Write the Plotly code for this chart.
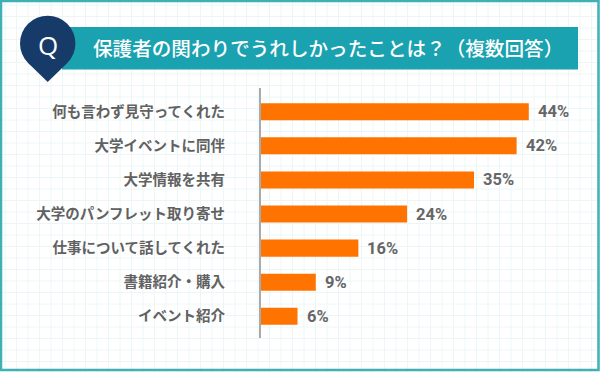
import plotly.graph_objects as go

categories = ["何も言わず見守ってくれた", "大学イベントに同伴", "大学情報を共有",
              "大学のパンフレット取り寄せ", "仕事について話してくれた", "書籍紹介・購入", "イベント紹介"]
values = [44, 42, 35, 24, 16, 9, 6]
title_text = "保護者の関わりでうれしかったことは？（複数回答）"

W, H = 600, 372
def px(x): return x / W
def py(y): return 1 - y / H

TEAL = "#1aa2b0"
NAVY = "#163b69"
ORANGE = "#ff7300"
GRAY = "#616161"

fig = go.Figure()
fig.add_trace(go.Bar(
    x=values, y=categories, orientation="h",
    marker=dict(color=ORANGE, line=dict(width=0)),
    width=0.5, hoverinfo="skip",
))

shapes = []
# grid background
step = 11.5
x = 5.0
while x < W:
    shapes.append(dict(type="line", xref="paper", yref="paper", x0=px(x), x1=px(x), y0=0, y1=1,
                       line=dict(color="#ecf6f7", width=1), layer="below"))
    x += step
y = 5.0
while y < H:
    shapes.append(dict(type="line", xref="paper", yref="paper", x0=0, x1=1, y0=py(y), y1=py(y),
                       line=dict(color="#ecf6f7", width=1), layer="below"))
    y += step
# outer border
shapes.append(dict(type="rect", xref="paper", yref="paper", x0=px(1), x1=px(598.5), y0=py(370), y1=py(1),
                   line=dict(color="#3fb0b4", width=2.5), fillcolor="rgba(0,0,0,0)", layer="above"))
# header band
shapes.append(dict(type="rect", xref="paper", yref="paper", x0=px(62), x1=px(578), y0=py(69.5), y1=py(27),
                   line=dict(width=0), fillcolor=TEAL, layer="above"))
# pin
cx, cy, r = 47.7, 43.4, 27.7
shapes.append(dict(type="circle", xref="paper", yref="paper", x0=px(cx - r), x1=px(cx + r),
                   y0=py(cy + r), y1=py(cy - r), line=dict(width=0), fillcolor=NAVY, layer="above"))
path = "M {} {} L {} {} L {} {} Z".format(px(cx), py(82), px(cx - 19.3), py(cy + 19.9), px(cx + 19.3), py(cy + 19.9))
shapes.append(dict(type="path", xref="paper", yref="paper", path=path, line=dict(width=0),
                   fillcolor=NAVY, layer="above"))

annotations = [
    dict(x=px(cx), y=py(45), xref="paper", yref="paper", text="Q", showarrow=False,
         xanchor="center", yanchor="middle", font=dict(family="Open Sans", size=26, color="white")),
    dict(x=px(91), y=py(47), xref="paper", yref="paper", text=title_text, showarrow=False,
         xanchor="left", yanchor="middle", font=dict(family="Noto Sans CJK JP", size=19.6, color="white", weight=500)),
]
for c, v in zip(categories, values):
    annotations.append(dict(x=v, y=c, xref="x", yref="y", text=f"{v}%", showarrow=False,
                            xanchor="left", yanchor="middle", xshift=7,
                            font=dict(family="Roboto", size=16.5, color="#666666", weight="bold")))

fig.update_layout(
    width=W, height=H,
    margin=dict(l=0, r=0, t=0, b=0),
    paper_bgcolor="white", plot_bgcolor="rgba(0,0,0,0)",
    showlegend=False,
    shapes=shapes, annotations=annotations,
    xaxis=dict(domain=[px(261), 1], range=[0, 55.7], showgrid=False, zeroline=False,
               showticklabels=False, showline=False, fixedrange=True),
    yaxis=dict(domain=[py(338), py(88)], range=[6.636, -0.695], type="category",
               showgrid=False, zeroline=False, showline=True, linecolor="#aaaaaa", linewidth=2,
               ticks="", ticklabelstandoff=31,
               tickfont=dict(family="Noto Sans CJK JP", size=14.5, color=GRAY, weight="bold"),
               fixedrange=True),
)

fig.write_html("out.html", config={"displayModeBar": False},
               post_script="document.body.style.margin='0';document.body.style.overflow='hidden';")
